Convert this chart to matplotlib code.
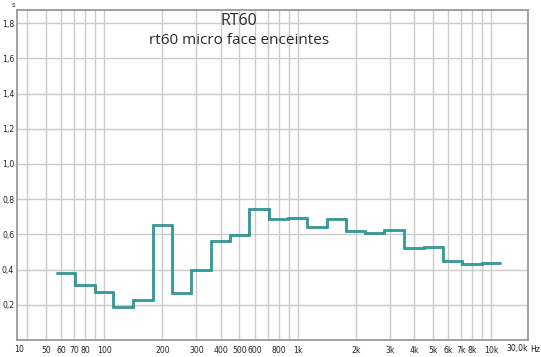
import numpy as np
import matplotlib
matplotlib.use("Agg")
import matplotlib.pyplot as plt
from matplotlib.ticker import FixedLocator, NullFormatter

bands = [63, 80, 100, 125, 160, 200, 250, 315, 400, 500, 630, 800,
         1000, 1250, 1600, 2000, 2500, 3150, 4000, 5000, 6300, 8000, 10000]
rt60 = [0.38, 0.31, 0.27, 0.19, 0.23, 0.655, 0.265, 0.40, 0.565, 0.595, 0.745, 0.685,
        0.695, 0.64, 0.685, 0.62, 0.61, 0.625, 0.525, 0.53, 0.45, 0.43, 0.44]

xtick_vals = [50, 60, 70, 80, 100, 200, 300, 400, 500, 600, 800,
              1000, 2000, 3000, 4000, 5000, 6000, 7000, 8000, 10000]
xtick_labels = ["50", "60", "70", "80", "100", "200", "300", "400", "500", "600", "800",
                "1k", "2k", "3k", "4k", "5k", "6k", "7k", "8k", "10k"]
grid_freqs = [40, 50, 60, 70, 80, 90, 100, 200, 300, 400, 500, 600, 700, 800, 900,
              1000, 2000, 3000, 4000, 5000, 6000, 7000, 8000, 9000, 10000]
ytick_vals = [0.2, 0.4, 0.6, 0.8, 1.0, 1.2, 1.4, 1.6, 1.8]
ytick_labels = ["0,2", "0,4", "0,6", "0,8", "1,0", "1,2", "1,4", "1,6", "1,8"]

# bords des bandes (moyenne géométrique entre centres)
c = np.array(bands, dtype=float)
inner = np.sqrt(c[:-1] * c[1:])
edges = np.concatenate([[c[0] / 10 ** 0.05], inner, [c[-1] * 10 ** 0.05]])

W, H = 541, 357
fig = plt.figure(figsize=(W / 100, H / 100), dpi=100)
ax = fig.add_axes([17 / W, (H - 340) / H, (528 - 17) / W, (340 - 10) / H])

ax.set_xscale("log")
ax.set_xlim(35.5, 15500)
ax.set_ylim(0, 1.875)

# grille
ax.xaxis.set_major_locator(FixedLocator(xtick_vals))
ax.xaxis.set_minor_locator(FixedLocator(grid_freqs))
ax.xaxis.set_minor_formatter(NullFormatter())
ax.set_xticklabels(xtick_labels)
ax.set_yticks(ytick_vals)
ax.set_yticklabels(ytick_labels)
ax.grid(True, which="both", axis="x", color="#cbcbcb", lw=1.0)
ax.grid(True, which="major", axis="y", color="#cbcbcb", lw=1.0)
ax.set_axisbelow(True)
ax.tick_params(which="both", length=0, labelsize=5.6, colors="#222222", pad=4)
ax.tick_params(axis="y", pad=2)
for s in ax.spines.values():
    s.set_color("#9a9a9a")
    s.set_linewidth(1.3)

# courbe RT60 en escalier
ax.stairs(rt60, edges, baseline=None, color="#177a7a", lw=1.8)
ax.stairs(rt60, edges, baseline=None, color="#2aa3a3", lw=0.9)

# textes
fig.text(239 / W, 1 - 21 / H, "RT60", ha="center", va="center",
         fontsize=11.5, family="Open Sans", color="#2a2a2a")
fig.text(239 / W, 1 - 41 / H, "rt60 micro face enceintes", ha="center", va="center",
         fontsize=11, family="Open Sans", color="#2a2a2a")
fig.text(13 / W, 1 - 5 / H, "s", ha="center", va="center", fontsize=5, color="#333333")
fig.text(19 / W, 1 - 349 / H, "10", ha="center", va="center", fontsize=5.6, color="#222222")
fig.text(517 / W, 1 - 349 / H, "30,0k", ha="center", va="center", fontsize=5.6, color="#222222")
fig.text(535 / W, 1 - 349 / H, "Hz", ha="center", va="center", fontsize=5.6, color="#222222")

fig.savefig("out.png", dpi=100)
